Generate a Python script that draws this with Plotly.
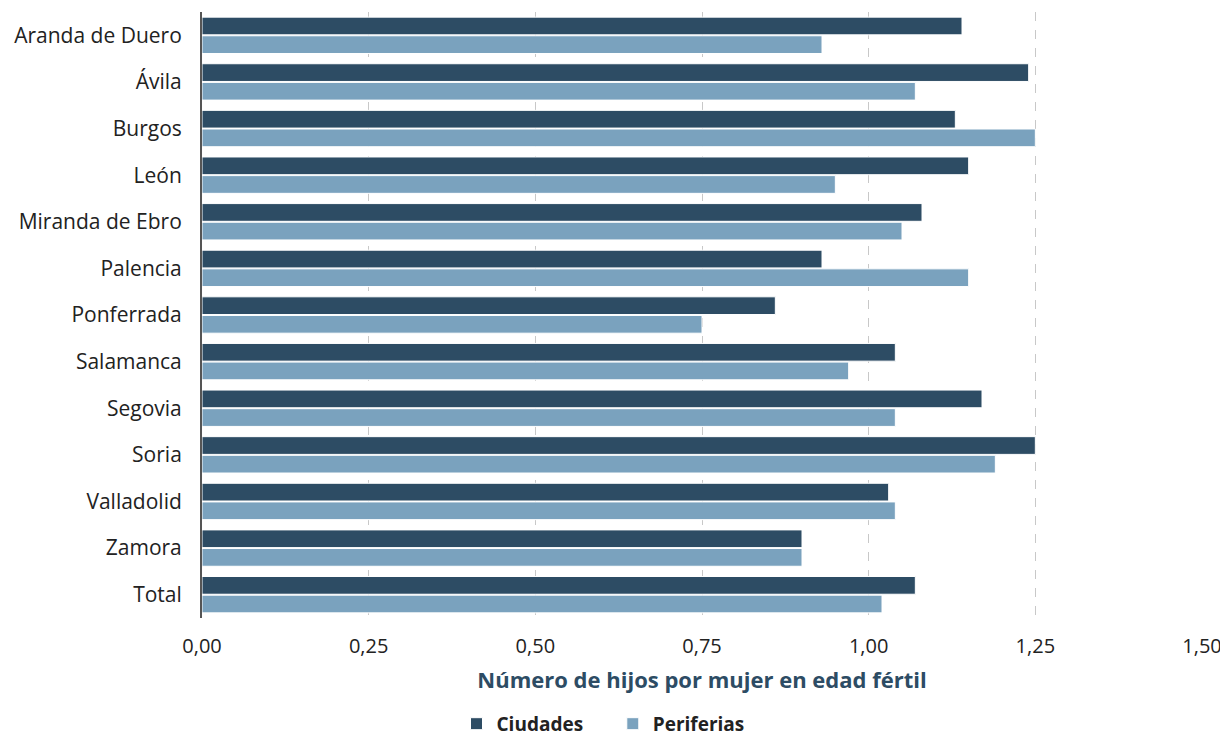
import plotly.graph_objects as go

ciudades_names = ['Aranda de Duero', 'Ávila', 'Burgos', 'León', 'Miranda de Ebro', 'Palencia',
                  'Ponferrada', 'Salamanca', 'Segovia', 'Soria', 'Valladolid', 'Zamora', 'Total']
ciudades = [1.14, 1.24, 1.13, 1.15, 1.08, 0.93, 0.86, 1.04, 1.17, 1.25, 1.03, 0.90, 1.07]
periferias = [0.93, 1.07, 1.25, 0.95, 1.05, 1.15, 0.75, 0.97, 1.04, 1.19, 1.04, 0.90, 1.02]
tick_vals = [0, 0.25, 0.5, 0.75, 1.0, 1.25, 1.5]
tick_text = ['0,00', '0,25', '0,50', '0,75', '1,00', '1,25', '1,50']

DARK = '#2d4c64'
LIGHT = '#7aa2be'
FONT = 'Open Sans'

fig = go.Figure()
fig.add_trace(go.Bar(y=ciudades_names, x=ciudades, orientation='h', name='<b>Ciudades</b>     ',
                     marker=dict(color=DARK, line=dict(color='white', width=1))))
fig.add_trace(go.Bar(y=ciudades_names, x=periferias, orientation='h', name='<b>Periferias</b>',
                     marker=dict(color=LIGHT, line=dict(color='white', width=1))))

# page body adds 8px offset, so the figure is 8px smaller and margins shifted
fig.update_layout(
    width=1220, height=736,
    margin=dict(l=194, r=26, t=4, b=126, autoexpand=False),
    paper_bgcolor='white', plot_bgcolor='white',
    barmode='group', bargap=0.2, bargroupgap=0.05,
    font=dict(family=FONT, size=20, color='#222222'),
    legend=dict(orientation='h', x=0.401, xanchor='center', y=-0.206, yanchor='bottom',
                font=dict(size=19, color='#222222'), traceorder='normal'),
    showlegend=True,
)
fig.update_xaxes(range=[0, 1.5], tickvals=tick_vals, ticktext=tick_text, automargin=False,
                 showgrid=True, gridcolor='#c8c8c8', griddash='dash', gridwidth=1,
                 zeroline=False, showline=False, ticks='', tickfont=dict(size=20),
                 ticklabelstandoff=14,
                 title=dict(text='<b>Número de hijos por mujer en edad fértil</b>',
                            font=dict(size=22, color=DARK), standoff=14))
fig.update_yaxes(autorange='reversed', showline=True, linecolor='#555555', linewidth=2,
                 automargin=False, tickfont=dict(size=21),
                 ticks='', ticklabelstandoff=14, showgrid=False)

fig.write_html('out.html')
